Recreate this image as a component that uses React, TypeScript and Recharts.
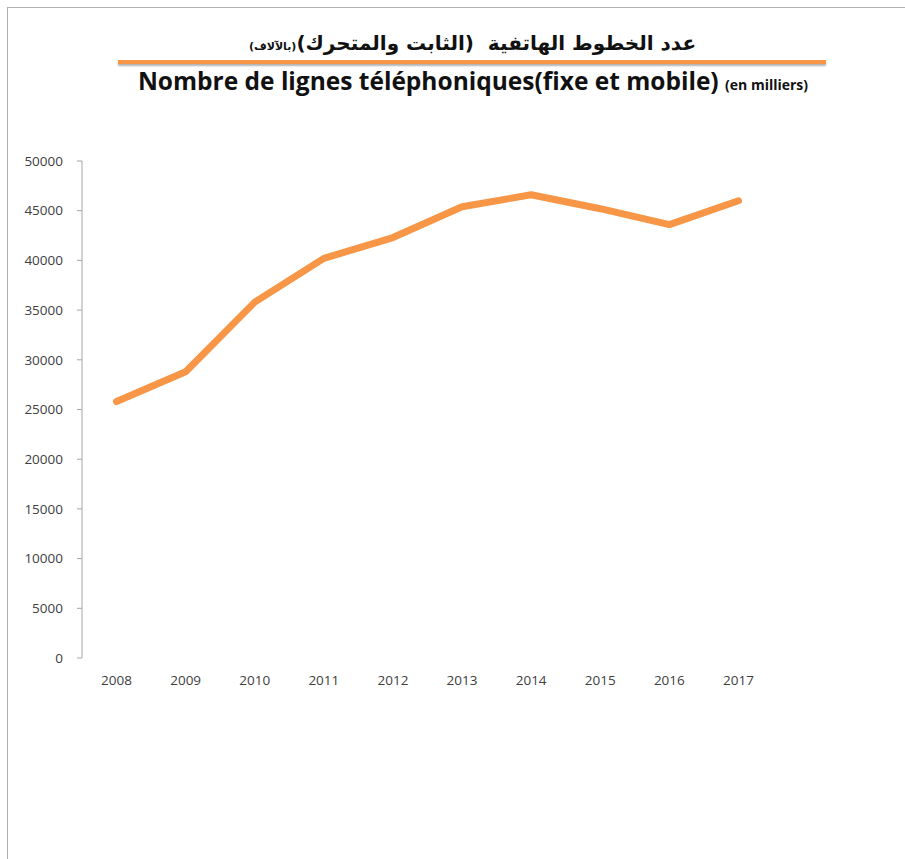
import { LineChart, Line, XAxis, YAxis } from "recharts";

const years = ["2008", "2009", "2010", "2011", "2012", "2013", "2014", "2015", "2016", "2017"];
const lines = [25800, 28800, 35800, 40200, 42300, 45400, 46600, 45200, 43600, 46000];
const yTicks = [0, 5000, 10000, 15000, 20000, 25000, 30000, 35000, 40000, 45000, 50000];

const data = years.map((year, i) => ({ year, pos: i + 0.5, value: lines[i] }));
const labelTicks = years.map((_, i) => i + 0.5);
const boundaryTicks = years.map((_, i) => i).concat(years.length);

const axisColor = "#a6a6a6";
const tickFont = { fontSize: 13.5, fill: "#404040", fontFamily: "'Open Sans', sans-serif" };

export default function App() {
  return (
    <div style={{ position: "absolute", left: 0, top: 0, width: 905, height: 859, background: "#fff" }}>
      <div style={{ position: "absolute", left: 7, top: 7, right: 0, bottom: 0, borderTop: "1px solid #b0b0b0", borderLeft: "1px solid #b0b0b0" }} />
      <div
        dir="rtl"
        style={{ position: "absolute", left: 0, width: 945, top: 31, textAlign: "center", whiteSpace: "pre", fontFamily: "'DejaVu Sans', sans-serif", fontWeight: "bold", fontSize: 20, color: "#111" }}
      >
        عدد الخطوط الهاتفية  (الثابت والمتحرك)<span style={{ fontSize: 11 }}>(بالآلاف)</span>
      </div>
      <div style={{ position: "absolute", left: 118, width: 708, top: 60, height: 4, background: "#f79646", boxShadow: "0 2px 2px rgba(0,0,0,0.3)" }} />
      <div
        style={{ position: "absolute", left: 0, width: 946, top: 64, textAlign: "center", fontFamily: "'Open Sans', sans-serif", fontWeight: "bold", fontSize: 24.5, color: "#111" }}
      >
        Nombre de lignes téléphoniques(fixe et mobile) <span style={{ fontSize: 14 }}>(en milliers)</span>
      </div>
      <div style={{ position: "absolute", left: 0, top: 0 }}>
        <LineChart width={905} height={859} data={data} margin={{ top: 161, right: 132, bottom: 171, left: 22 }}>
          <XAxis
            xAxisId="labels"
            dataKey="pos"
            type="number"
            domain={[0, years.length]}
            ticks={labelTicks}
            tickFormatter={(v: number) => years[Math.floor(v)]}
            axisLine={false}
            tickLine={false}
            tickSize={5}
            tickMargin={12}
            tick={tickFont}
            height={30}
          />
          <XAxis
            xAxisId="bounds"
            dataKey="pos"
            type="number"
            domain={[0, years.length]}
            ticks={boundaryTicks}
            tick={false}
            stroke={axisColor}
            tickSize={5}
            height={0}
          />
          <YAxis
            domain={[0, 50000]}
            ticks={yTicks}
            interval={0}
            stroke={axisColor}
            tickSize={5}
            tickMargin={14}
            tick={tickFont}
            width={60}
          />
          <Line
            xAxisId="labels"
            dataKey="value"
            stroke="#f79646"
            strokeWidth={7}
            strokeLinecap="round"
            strokeLinejoin="round"
            dot={false}
            isAnimationActive={false}
          />
        </LineChart>
      </div>
    </div>
  );
}
